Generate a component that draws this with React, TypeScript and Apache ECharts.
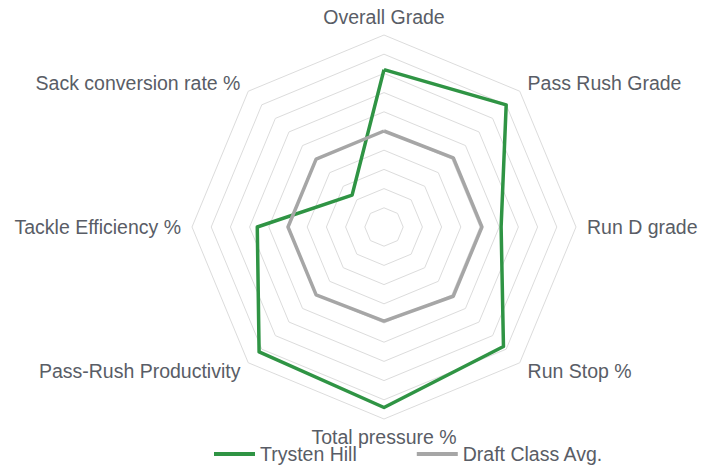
import React, { useEffect, useRef } from "react";
import * as echarts from "echarts";

// Indicators listed counter-clockwise from the top (ECharts radar direction)
const indicators = [
  "Overall Grade",
  "Sack conversion rate %",
  "Tackle Efficiency %",
  "Pass-Rush Productivity",
  "Total pressure %",
  "Run Stop %",
  "Run D grade",
  "Pass Rush Grade",
];
const maxValue = 100;
const seriesNames = ["Trysten Hill", "Draft Class Avg."];
const trystenHill = [82, 23.5, 66, 92, 94, 88, 61, 90];
const draftClassAvg = [50, 50, 50, 50, 49, 51, 51, 51];

const GREEN = "#2f9444";
const GRAY = "#a6a6a6";
const TEXT = "#595d66";

export default function App() {
  const ref = useRef<HTMLDivElement>(null);
  useEffect(() => {
    if (!ref.current) return;
    const chart = echarts.init(ref.current, null, { renderer: "svg" });
    chart.setOption({
      animation: false,
      backgroundColor: "#ffffff",
      legend: {
        data: seriesNames,
        left: 209,
        top: 439,
        icon: "rect",
        itemWidth: 41,
        itemHeight: 4,
        itemGap: 60,
        textStyle: {
          fontFamily: "Liberation Sans, Arial, sans-serif",
          fontSize: 19.5,
          lineHeight: 14,
          color: TEXT,
        },
      },
      radar: {
        center: [384, 227],
        radius: 192,
        startAngle: 90,
        shape: "polygon",
        splitNumber: 10,
        nameGap: 11,
        indicator: indicators.map((name) => ({ name, max: maxValue, min: 0 })),
        axisName: {
          color: TEXT,
          fontFamily: "Liberation Sans, Arial, sans-serif",
          fontSize: 19.5,
          lineHeight: 14,
        },
        axisLine: { show: false },
        axisTick: { show: false },
        axisLabel: { show: false },
        splitArea: { show: false },
        splitLine: { lineStyle: { color: "#dcdcdc", width: 1 } },
      },
      series: [
        {
          type: "radar",
          symbol: "none",
          data: [
            {
              name: seriesNames[0],
              value: trystenHill,
              lineStyle: { color: GREEN, width: 3.5 },
              itemStyle: { color: GREEN },
            },
            {
              name: seriesNames[1],
              value: draftClassAvg,
              lineStyle: { color: GRAY, width: 3.5 },
              itemStyle: { color: GRAY },
            },
          ],
        },
      ],
    });
    return () => chart.dispose();
  }, []);
  return (
    <div
      ref={ref}
      style={{ position: "fixed", left: 0, top: 0, width: 704, height: 474 }}
    />
  );
}
